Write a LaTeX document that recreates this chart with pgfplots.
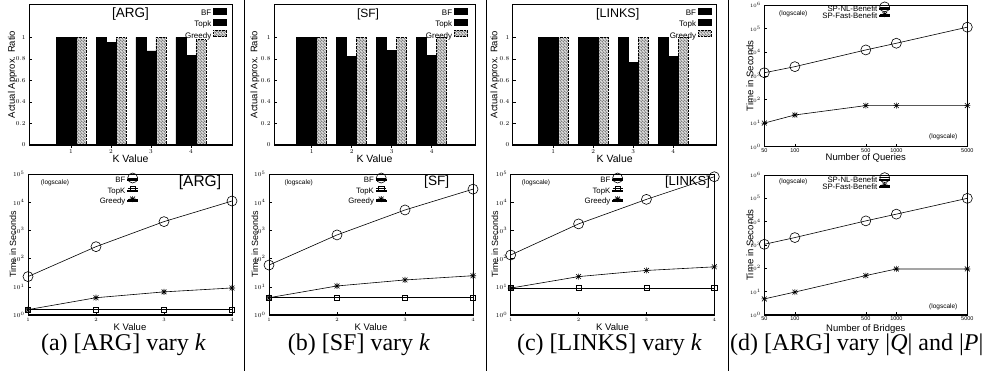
\documentclass[border=0pt]{standalone}
\usepackage{pgfplots}
\pgfplotsset{compat=1.18}
\usepackage{fontspec}
\setmainfont{Liberation Sans}
\newfontfamily\capfont{Liberation Serif}
\usetikzlibrary{patterns}
\newcommand{\fs}[1]{\fontsize{#1}{#1}\selectfont}

\pgfdeclareplotmark{gstar}{%
  \pgfpathmoveto{\pgfqpoint{-\pgfplotmarksize}{0pt}}\pgfpathlineto{\pgfqpoint{\pgfplotmarksize}{0pt}}%
  \pgfpathmoveto{\pgfqpoint{0pt}{-\pgfplotmarksize}}\pgfpathlineto{\pgfqpoint{0pt}{\pgfplotmarksize}}%
  \pgfpathmoveto{\pgfqpoint{-0.8\pgfplotmarksize}{-0.8\pgfplotmarksize}}\pgfpathlineto{\pgfqpoint{0.8\pgfplotmarksize}{0.8\pgfplotmarksize}}%
  \pgfpathmoveto{\pgfqpoint{-0.8\pgfplotmarksize}{0.8\pgfplotmarksize}}\pgfpathlineto{\pgfqpoint{0.8\pgfplotmarksize}{-0.8\pgfplotmarksize}}%
  \pgfusepathqstroke}

\pgfdeclarepatternformonly{hatch}{\pgfqpoint{-1pt}{-1pt}}{\pgfqpoint{4pt}{4pt}}{\pgfqpoint{3pt}{3pt}}{%
  \pgfsetlinewidth{1.3pt}%
  \pgfpathmoveto{\pgfqpoint{-0.2pt}{3.2pt}}\pgfpathlineto{\pgfqpoint{3.2pt}{-0.2pt}}%
  \pgfusepath{stroke}}

\pgfplotsset{
  myaxbase/.style={scale only axis, axis line style={line width=0.9pt},
    tick align=inside, tick pos=left, major tick length=3pt,
    tick style={line width=0.5pt, black},
    legend plot pos=right, legend cell align=right,
    legend style={draw=none, fill=none, inner sep=0pt, column sep=2pt,
      nodes={inner sep=0pt, text height=5.8pt, text depth=1.2pt}}},
  barax/.style={myaxbase, height=141pt, ymin=0, ymax=1.31, ybar=0pt, bar width=0.25,
    xtick={1,2,3,4}, ytick={0,0.2,0.4,0.6,0.8,1},
    tick label style={font=\fs{6.5}}, xticklabel style={yshift=2pt},
    xlabel={K Value}, ylabel={Actual Approx. Ratio},
    xlabel style={font=\fs{10.5}, at={(rel axis cs:0.5,0)}, anchor=center, yshift=-13.5pt},
    ylabel style={font=\fs{9.5}, anchor=center},
    legend style={font=\fs{8}, row sep=2pt, anchor=north east}},
  barleg/.style={legend image code/.code={\draw[##1] (0pt,-0.5pt) rectangle (13pt,5.5pt);}},
  lleg/.style={legend image code/.code={\draw[overlay,mark repeat=2,mark phase=2,##1] plot coordinates {(0pt,2.5pt) (5pt,2.5pt) (10pt,2.5pt)}; \path (0pt,0pt) rectangle (10pt,1pt);}},
  lineax/.style={myaxbase, yminorticks=false, clip=false,
    yticklabel style={font=\fs{6.5}}, xticklabel style={font=\fs{4.5}},
    ylabel={Time in Seconds},
    ylabel style={font=\fs{9}, anchor=center},
    legend style={font=\fs{7.8}, anchor=north east}},
  kax/.style={lineax, height=141pt, ymin=1, ymax=1e5, xmin=1, xmax=4, xtick={1,2,3,4},
    ytick={1,10,100,1000,10000,100000},
    xlabel={K Value},
    xlabel style={font=\fs{9.5}, at={(rel axis cs:0.5,0)}, anchor=center, yshift=-12pt},
    legend style={row sep=3.5pt}},
  qax/.style={lineax, xminorticks=false, xmin=50, xmax=5000, width=203pt,
    xtick={50,100,500,1000,5000}, xticklabels={50,100,500,1000,5000},
    xticklabel style={font=\fs{5.5}, yshift=1.5pt},
    ytick={1,10,100,1000,10000,100000,1000000}, ymin=1, ymax=1e6,
    yticklabel style={font=\fs{5.5}},
    ylabel style={font=\fs{9.6}},
    legend style={row sep=0.3pt, at={(0.62,0.995)}}},
  bfst/.style={lleg, black, line width=0.6pt, mark=o, mark size=5pt, mark options={solid}},
  tkst/.style={lleg, black, line width=0.6pt, mark=square, mark size=2.6pt, mark options={solid}},
  grst/.style={lleg, black, line width=0.6pt, mark=gstar, mark size=3pt, mark options={solid}},
  grbar/.style={barleg, draw=black, densely dotted, pattern=hatch, pattern color=black},
}

\begin{document}
\begin{tikzpicture}
\useasboundingbox (0pt,0pt) rectangle (996pt,371pt);

% ---------- top row: approximation ratio ----------
\begin{axis}[barax, at={(29pt,226pt)}, anchor=south west, width=203pt, xmin=-0.05, xmax=5.025,
  ylabel style={at={([xshift=-16.5pt]rel axis cs:0,0.5)}},
  legend style={at={(0.975,0.975)}}]
\addplot[barleg, fill=black, draw=black] coordinates {(1,1) (2,1) (3,1) (4,1)};
\addplot[barleg, fill=black, draw=black] coordinates {(1,1) (2,0.955) (3,0.875) (4,0.835)};
\addplot[grbar] coordinates {(1,1) (2,1) (3,1) (4,0.98)};
\legend{BF,Topk,Greedy}
\draw[line width=1.5pt] (rel axis cs:0,0) -- (rel axis cs:1,0);
\end{axis}

\begin{axis}[barax, at={(274pt,226pt)}, anchor=south west, width=201pt, xmin=0.06, xmax=5.085,
  ylabel style={at={([xshift=-19pt]rel axis cs:0,0.5)}},
  legend style={at={(0.964,0.975)}}]
\addplot[barleg, fill=black, draw=black] coordinates {(1,1) (2,1) (3,1) (4,1)};
\addplot[barleg, fill=black, draw=black] coordinates {(1,1) (2,0.825) (3,0.88) (4,0.835)};
\addplot[grbar] coordinates {(1,1) (2,1) (3,1) (4,1)};
\legend{BF,Topk,Greedy}
\draw[line width=1.5pt] (rel axis cs:0,0) -- (rel axis cs:1,0);
\end{axis}

\begin{axis}[barax, at={(512.7pt,226pt)}, anchor=south west, width=204pt, xmin=-0.015, xmax=5.085,
  ylabel style={at={([xshift=-17.7pt]rel axis cs:0,0.5)}},
  legend style={at={(0.975,0.975)}}]
\addplot[barleg, fill=black, draw=black] coordinates {(1,1) (2,1) (3,1) (4,1)};
\addplot[barleg, fill=black, draw=black] coordinates {(1,1) (2,1) (3,0.765) (4,0.825)};
\addplot[grbar] coordinates {(1,1) (2,1) (3,1) (4,1)};
\legend{BF,Topk,Greedy}
\draw[line width=1.5pt] (rel axis cs:0,0) -- (rel axis cs:1,0);
\end{axis}

\begin{axis}[xmode=log, ymode=log, qax, at={(764.3pt,224.3pt)}, anchor=south west, height=141.7pt,
  xlabel={Number of Queries},
  xlabel style={font=\fs{9.5}, at={(rel axis cs:0.5,0)}, anchor=center, yshift=-11.5pt},
  ylabel style={at={([xshift=-14.3pt]rel axis cs:0,0.5)}}]
\addplot[bfst] coordinates {(50,1350) (100,2450) (500,12500) (1000,24000) (5000,115000)};
\addplot[grst] coordinates {(50,10) (100,22) (500,55) (1000,55) (5000,55)};
\legend{SP-NL-Benefit,SP-Fast-Benefit}
\draw[line width=1.5pt] (rel axis cs:0,0) -- (rel axis cs:1,0);
\end{axis}

% ---------- bottom row: running time ----------
\begin{axis}[ymode=log, kax, at={(28pt,56pt)}, anchor=south west, width=204pt,
  ylabel style={at={([xshift=-15pt]rel axis cs:0,0.5)}},
  legend style={at={(0.54,0.98)}}]
\addplot[bfst] coordinates {(1,23) (2,265) (3,2050) (4,11000)};
\addplot[tkst] coordinates {(1,1.55) (2,1.55) (3,1.55) (4,1.55)};
\addplot[grst] coordinates {(1,1.55) (2,4.1) (3,6.6) (4,9.1)};
\legend{BF,TopK,Greedy}
\draw[line width=1.5pt] (rel axis cs:0,0) -- (rel axis cs:1,0);
\end{axis}

\begin{axis}[ymode=log, kax, at={(269pt,56pt)}, anchor=south west, width=204pt,
  ylabel style={at={([xshift=-14pt]rel axis cs:0,0.5)}},
  legend style={at={(0.577,0.98)}}]
\addplot[bfst] coordinates {(1,59) (2,690) (3,5300) (4,29000)};
\addplot[tkst] coordinates {(1,4.1) (2,4.1) (3,4.1) (4,4.1)};
\addplot[grst] coordinates {(1,4.1) (2,10.7) (3,17.5) (4,24.7)};
\legend{BF,TopK,Greedy}
\draw[line width=1.5pt] (rel axis cs:0,0) -- (rel axis cs:1,0);
\end{axis}

\begin{axis}[ymode=log, kax, at={(510.7pt,56pt)}, anchor=south west, width=203.6pt,
  ylabel style={at={([xshift=-15.7pt]rel axis cs:0,0.5)}},
  legend style={at={(0.552,0.98)}}]
\addplot[bfst] coordinates {(1,134) (2,1700) (3,12600) (4,80000)};
\addplot[tkst] coordinates {(1,9) (2,9) (3,9) (4,9)};
\addplot[grst] coordinates {(1,9) (2,23) (3,38) (4,51)};
\legend{BF,TopK,Greedy}
\draw[line width=1.5pt] (rel axis cs:0,0) -- (rel axis cs:1,0);
\end{axis}

\begin{axis}[xmode=log, ymode=log, qax, at={(764.3pt,56pt)}, anchor=south west, height=140pt,
  xlabel={Number of Bridges},
  xlabel style={font=\fs{9.5}, at={(rel axis cs:0.5,0)}, anchor=center, yshift=-14pt},
  ylabel style={at={([xshift=-14.3pt]rel axis cs:0,0.5)}},
  legend style={at={(0.62,0.99)}}]
\addplot[bfst] coordinates {(50,1070) (100,2080) (500,10800) (1000,21000) (5000,100000)};
\addplot[grst] coordinates {(50,4.9) (100,9.6) (500,49) (1000,94) (5000,94)};
\legend{SP-NL-Benefit,SP-Fast-Benefit}
\draw[line width=1.5pt] (rel axis cs:0,0) -- (rel axis cs:1,0);
\end{axis}

% ---------- titles and notes ----------
\node[font=\fs{13.5}] at (130.5pt,357pt) {[ARG]};
\node[font=\fs{12}] at (368pt,357pt) {[SF]};
\node[font=\fs{12.5}] at (617.7pt,357pt) {[LINKS]};
\node[font=\fs{15.5}] at (200pt,189pt) {[ARG]};
\node[font=\fs{13.6}] at (436.7pt,189pt) {[SF]};
\node[font=\fs{13}] at (687.5pt,188.5pt) {[LINKS]};
\node[font=\fs{6.5}] at (55pt,188pt) {(logscale)};
\node[font=\fs{6.5}] at (298.7pt,188.3pt) {(logscale)};
\node[font=\fs{6.5}] at (536pt,188.3pt) {(logscale)};
\node[font=\fs{6.5}] at (793.3pt,357pt) {(logscale)};
\node[font=\fs{6.5}] at (943.3pt,234.3pt) {(logscale)};
\node[font=\fs{6.5}] at (793.3pt,188.7pt) {(logscale)};
\node[font=\fs{6.5}] at (943.3pt,64.3pt) {(logscale)};

% ---------- separators and captions ----------
\draw[line width=0.9pt] (244pt,0pt) -- (244pt,371pt);
\draw[line width=0.9pt] (486pt,0pt) -- (486pt,371pt);
\draw[line width=0.9pt] (728pt,0pt) -- (728pt,371pt);
\node[font=\capfont\fs{24}] at (123.5pt,26pt) {(a) [ARG] vary \textit{k}};
\node[font=\capfont\fs{24}] at (359pt,26pt) {(b) [SF] vary \textit{k}};
\node[font=\capfont\fs{24}] at (609.5pt,26pt) {(c) [LINKS] vary \textit{k}};
\node[font=\capfont\fs{24}, anchor=west, inner sep=0pt] at (730pt,26pt) {(d) [ARG] vary |\textit{Q}| and |\textit{P}|};
\end{tikzpicture}
\end{document}
